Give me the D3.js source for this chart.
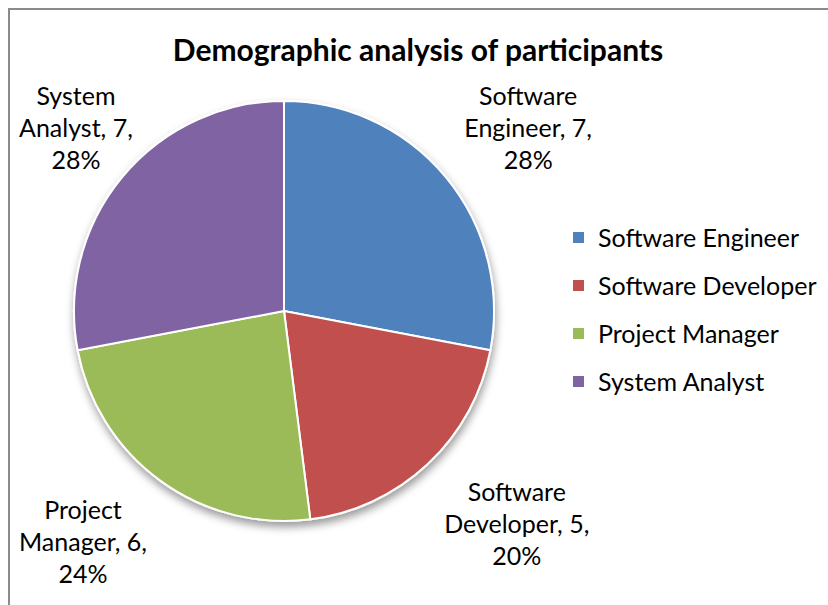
<!DOCTYPE html>
<html>
<head>
<meta charset="utf-8">
<script src="https://cdn.jsdelivr.net/npm/d3@7"></script>
<style>
  html, body { margin: 0; padding: 0; background: #ffffff; }
  svg { display: block; font-family: Lato, "Open Sans", sans-serif; }
</style>
</head>
<body>
<svg id="chart" width="828" height="605"></svg>
<script>
// Participants by role
const categories = ["Software Engineer", "Software Developer", "Project Manager", "System Analyst"];
const counts = [7, 5, 6, 7];
const colors = ["#4F81BD", "#C0504D", "#9BBB59", "#8064A2"];
const title = "Demographic analysis of participants";

const width = 828, height = 605;
const cx = 284, cy = 311, radius = 210;
const labelFont = 25, lineGap = 32;
// area the data labels are kept inside
const plotLeft = 19, plotTop = 80;

const svg = d3.select("#chart");

// chart frame (top and left edges are inside the view)
svg.append("path")
  .attr("d", `M9,${height} V9 H${width}`)
  .attr("fill", "none")
  .attr("stroke", "#8a8a8a")
  .attr("stroke-width", 2);

// soft shadow under the pie
const defs = svg.append("defs");
const f = defs.append("filter").attr("id", "pieShadow")
  .attr("x", "-20%").attr("y", "-20%").attr("width", "140%").attr("height", "140%");
f.append("feDropShadow")
  .attr("dx", 1).attr("dy", 5)
  .attr("stdDeviation", 4)
  .attr("flood-color", "#000")
  .attr("flood-opacity", 0.4);

svg.append("text")
  .attr("x", 418).attr("y", 61)
  .attr("text-anchor", "middle")
  .attr("font-weight", "bold")
  .attr("font-size", 30)
  .attr("fill", "#000")
  .text(title);

const total = d3.sum(counts);
const data = categories.map((c, i) => ({ name: c, value: counts[i], color: colors[i] }));

const pie = d3.pie().value(d => d.value).sort(null);
const arcs = pie(data);
const arc = d3.arc().innerRadius(0).outerRadius(radius);

const g = svg.append("g").attr("transform", `translate(${cx},${cy})`);

g.append("g").attr("filter", "url(#pieShadow)")
  .selectAll("path")
  .data(arcs)
  .join("path")
  .attr("d", arc)
  .attr("fill", d => d.data.color)
  .attr("stroke", "#ffffff")
  .attr("stroke-width", 2)
  .attr("stroke-linejoin", "round");

// data labels: outside end, the label block's nearest corner sits just off the rim,
// then the block is kept inside the plot area
const fmtPct = v => Math.round(v / total * 100) + "%";
const descent = 0.24 * labelFont;
arcs.forEach(a => {
  const words = a.data.name.split(" ");
  const lines = [words[0], words.slice(1).join(" ") + ", " + a.data.value + ",", fmtPct(a.data.value)];
  const mid = (a.startAngle + a.endAngle) / 2;
  const ux = Math.sin(mid), uy = -Math.cos(mid);
  const t = g.append("text")
    .attr("text-anchor", "middle")
    .attr("font-size", labelFont)
    .attr("fill", "#000");
  lines.forEach((ln, i) => {
    t.append("tspan").attr("x", 0).attr("y", i * lineGap).text(ln);
  });
  const bb = t.node().getBBox();
  const r = radius + 24;
  const px = ux * r, py = uy * r;
  let bx = px + Math.sign(ux) * bb.width / 2;
  let by = py + Math.sign(uy) * bb.height / 2 - descent;
  bx = Math.max(bx, plotLeft - cx + bb.width / 2);
  by = Math.max(by, plotTop - cy + bb.height / 2);
  const ox = bx - (bb.x + bb.width / 2);
  const oy = by - (bb.y + bb.height / 2);
  t.attr("transform", `translate(${ox},${oy})`);
});

// legend
const legend = svg.append("g").attr("transform", "translate(573,238)");
const rows = legend.selectAll("g")
  .data(data)
  .join("g")
  .attr("transform", (d, i) => `translate(0,${i * 48})`);
rows.append("rect")
  .attr("x", 0).attr("y", -6)
  .attr("width", 11).attr("height", 11)
  .attr("fill", d => d.color);
rows.append("text")
  .attr("x", 25).attr("y", 0)
  .attr("dy", "0.35em")
  .attr("font-size", labelFont)
  .attr("fill", "#000")
  .text(d => d.name);
</script>
</body>
</html>
